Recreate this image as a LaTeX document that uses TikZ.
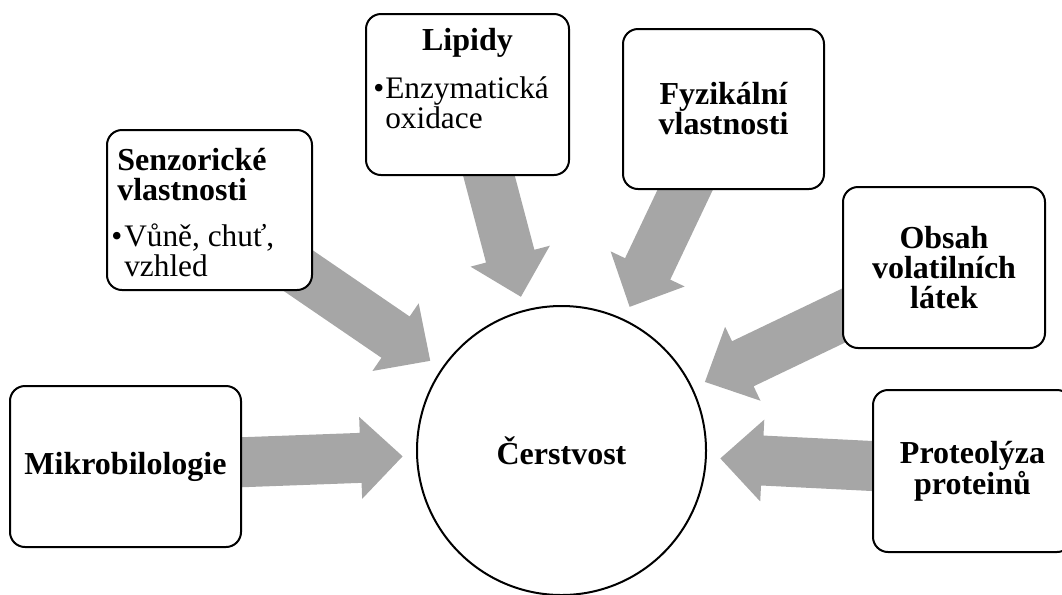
\documentclass[tikz,border=0pt]{standalone}
\usepackage{fontspec}
\setmainfont{Liberation Serif}
\usetikzlibrary{calc}
\pgfdeclarelayer{bg}
\pgfsetlayers{bg,main}
\definecolor{arrowgray}{RGB}{166,166,166}
\tikzset{
 box/.style={draw=black, line width=1.5pt, rounded corners=11.25pt, fill=white, inner sep=0pt},
 head/.style={font=\fontsize{24pt}{22.5pt}\selectfont\bfseries, inner sep=0pt},
 body/.style={font=\fontsize{23.5pt}{23pt}\selectfont, inner sep=0pt},
 hub/.style={circle, draw=black, line width=1.5pt, fill=white, minimum size=216.75pt, inner sep=0pt},
 flow/.style={fill=arrowgray, draw=none},
}
\begin{document}
\begin{tikzpicture}[x=0.75pt, y=-0.75pt]
\useasboundingbox (0,0) rectangle (1062,594);
\clip (0,0) rectangle (1062,594);
\node[hub, head] (c) at (561.5,450.5) {Čerstvost};
\node[box, head, minimum width=173.25pt, minimum height=120.75pt] (mik) at (125.5,466.5) {Mikrobilologie};
\node[box, minimum width=153.75pt, minimum height=120pt] (sen) at (209.5,210) {};
\node[box, minimum width=152.25pt, minimum height=120.75pt] (lip) at (467.5,94.5) {};
\node[box, head, align=center, minimum width=150.75pt, minimum height=120pt] (fyz) at (723.5,109) {Fyzikální\\vlastnosti};
\node[box, head, align=center, minimum width=151.5pt, minimum height=120.75pt] (obs) at (944,267.5) {Obsah\\volatilních\\látek};
\node[box, head, align=center, minimum width=149.25pt, minimum height=121.5pt] (pro) at (972.5,471) {Proteolýza\\proteinů};
\node[head, anchor=base west] (sen1) at (117,170) {Senzorické};
\node[head, anchor=base west] (sen2) at (117,200) {vlastnosti};
\node[body, anchor=base west] (senb) at (111,246) {•};
\node[body, anchor=base west] (sen3) at (124,246) {Vůně, chuť,};
\node[body, anchor=base west] (sen4) at (124,276) {vzhled};
\node[head, anchor=base] (lip1) at (467.5,50) {Lipidy};
\node[body, anchor=base west] (lipb) at (373,98) {•};
\node[body, anchor=base west] (lip2) at (385,98) {Enzymatická};
\node[body, anchor=base west] (lip3) at (385,128) {oxidace};
\begin{pgfonlayer}{bg}
\foreach \b in {mik,sen,lip,fyz,obs,pro}{
 \coordinate (\b-t) at ($(c.center)!119.25pt!(\b.center)$);
 \coordinate (\b-h) at ($(\b-t)!31.5pt!(\b.center)$);
 \fill[flow] ($(\b.center)!18.75pt!90:(\b-t)$) -- ($(\b-h)!18.75pt!90:(\b-t)$) -- ($(\b-h)!30.75pt!90:(\b-t)$) -- (\b-t) -- ($(\b-h)!30.75pt!-90:(\b-t)$) -- ($(\b-h)!18.75pt!-90:(\b-t)$) -- ($(\b.center)!18.75pt!-90:(\b-t)$) -- cycle;
}
\end{pgfonlayer}
\end{tikzpicture}
\end{document}
